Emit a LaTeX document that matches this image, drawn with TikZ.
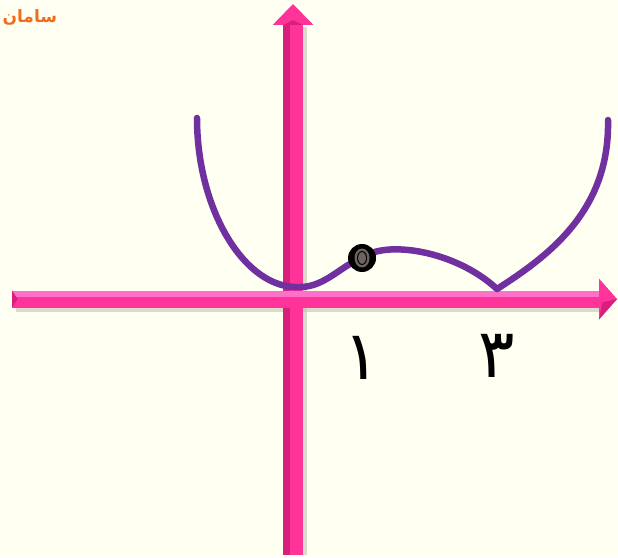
\documentclass[tikz,border=0pt]{standalone}
\usepackage{fontspec}
\usepackage{tikz}
\TeXXeTstate=1
\newfontfamily\arabicfont[Script=Arabic]{DejaVu Sans}

\definecolor{bgcream}{RGB}{255,255,242}
\definecolor{axispink}{RGB}{255,51,153}
\definecolor{axislight}{RGB}{255,112,200}
\definecolor{axisdark}{RGB}{214,32,124}
\definecolor{curvepurple}{RGB}{112,48,160}
\definecolor{holegrey}{RGB}{110,100,95}
\definecolor{signorange}{RGB}{242,108,30}
\definecolor{shadowgrey}{RGB}{196,196,180}

\begin{document}
\begin{tikzpicture}[x=68pt, y=68pt,
    shadowbar/.style={fill=shadowgrey, opacity=0.6},
    curveline/.style={curvepurple, line width=6.5pt, line cap=round, line join=round},
    digit/.style={font=\arabicfont\fontsize{68}{80}\selectfont},
    hole/.style={circle, fill=black, inner sep=0pt, minimum width=28pt}]

    % canvas
    \fill[bgcream] (-4.309,-3.794) rectangle (4.779,4.397);
    \useasboundingbox (-4.309,-3.794) rectangle (4.779,4.397);

    % shadows of the axes
    \fill[shadowbar] (-4.08,-0.19) rectangle (4.55,-0.06);
    \fill[shadowbar] (0.08,-3.76) rectangle (0.21,4.0);

    % y axis
    \fill[axispink] (-0.14,-3.765) rectangle (0.14,4.03);
    \fill[axisdark] (-0.14,-3.765) rectangle (-0.05,4.03);
    \fill[axispink] (-0.30,4.03) -- (0,4.338) -- (0.30,4.03) -- cycle;
    \fill[axisdark] (-0.14,4.03) -- (0,4.10) -- (0.14,4.03) -- cycle;

    % x axis
    \fill[axispink] (-4.132,-0.125) rectangle (4.5,0.125);
    \fill[axislight] (-4.132,0.03) rectangle (4.5,0.125);
    \fill[axisdark] (-4.132,0.125) -- (-4.05,0) -- (-4.132,-0.125) -- cycle;
    \fill[axispink] (4.5,0.30) -- (4.765,0) -- (4.5,-0.30) -- cycle;
    \fill[axisdark] (4.5,-0.30) -- (4.765,0) -- (4.55,-0.05) -- cycle;

    % the graph
    \coordinate (start) at (-1.412,2.662);
    \coordinate (low) at (0.103,0.176);
    \coordinate (peak) at (1.015,0.603);
    \coordinate (cusp) at (3.0,0.147);
    \coordinate (stop) at (4.632,2.632);

    \draw[curveline] (start) .. controls (-1.412,1.309) and (-0.706,0.132) .. (low)
        .. controls (0.47,0.176) and (0.72,0.5) .. (peak);
    \draw[curveline] (peak) .. controls (1.353,0.868) and (2.382,0.72) .. (cusp)
        .. controls (3.779,0.647) and (4.66,1.31) .. (stop);

    % open point at x=1
    \node[hole] (gap) at (peak) {};
    \fill[holegrey] (gap.center) ellipse [x radius=7.5pt, y radius=9.5pt];
    \draw[black, line width=1pt, fill=holegrey] (gap.center) ellipse [x radius=4.5pt, y radius=6.5pt];

    \node[digit] (one) at (1.015,-0.86) {\beginR ١\endR};
    \node[digit] (three) at (3.0,-0.84) {\beginR ٣\endR};

    \node[text=signorange, font=\arabicfont\bfseries\fontsize{17}{20}\selectfont] (brand) at (-3.87,4.14) {\beginR سامان\endR};
\end{tikzpicture}
\end{document}
